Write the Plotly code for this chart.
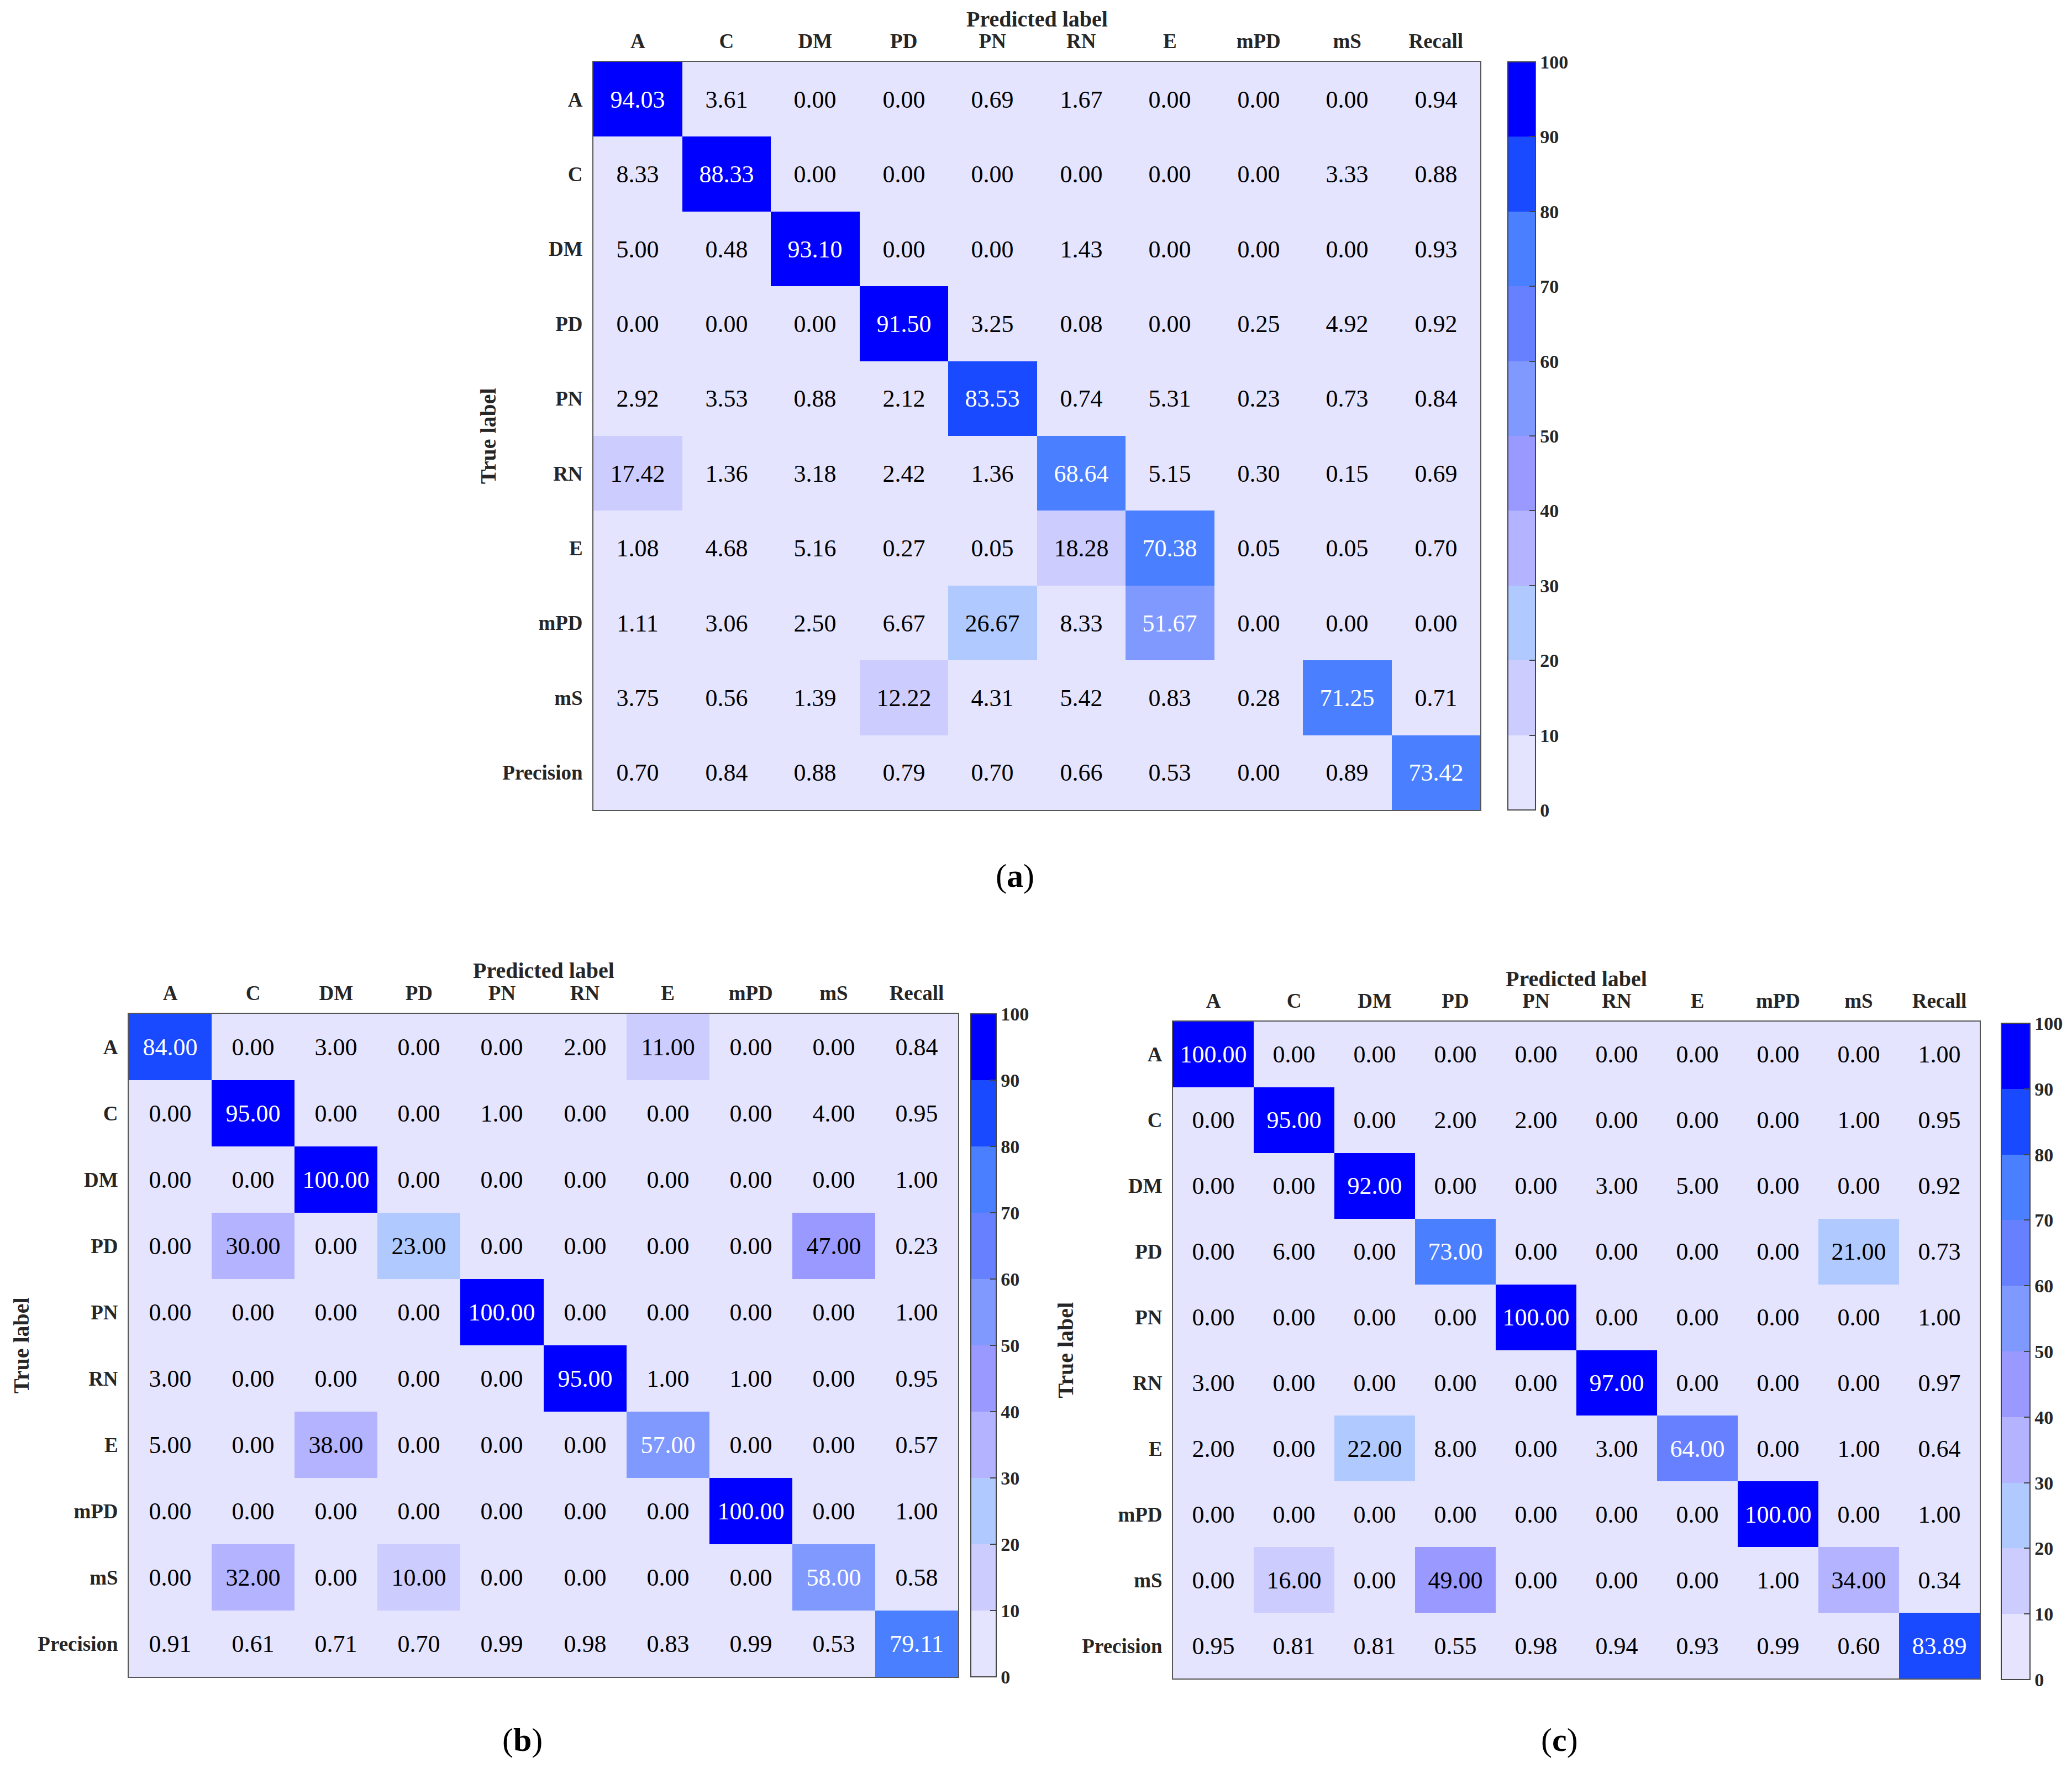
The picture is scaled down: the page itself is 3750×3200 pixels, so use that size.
import plotly.graph_objects as go

# Etichette
classi = ["A", "C", "DM", "PD", "PN", "RN", "E", "mPD", "mS"]
colonne = classi + ["Recall"]
righe = classi + ["Precision"]

# Matrici di confusione (%)
valori_a = [
    [94.03, 3.61, 0.00, 0.00, 0.69, 1.67, 0.00, 0.00, 0.00, 0.94],
    [8.33, 88.33, 0.00, 0.00, 0.00, 0.00, 0.00, 0.00, 3.33, 0.88],
    [5.00, 0.48, 93.10, 0.00, 0.00, 1.43, 0.00, 0.00, 0.00, 0.93],
    [0.00, 0.00, 0.00, 91.50, 3.25, 0.08, 0.00, 0.25, 4.92, 0.92],
    [2.92, 3.53, 0.88, 2.12, 83.53, 0.74, 5.31, 0.23, 0.73, 0.84],
    [17.42, 1.36, 3.18, 2.42, 1.36, 68.64, 5.15, 0.30, 0.15, 0.69],
    [1.08, 4.68, 5.16, 0.27, 0.05, 18.28, 70.38, 0.05, 0.05, 0.70],
    [1.11, 3.06, 2.50, 6.67, 26.67, 8.33, 51.67, 0.00, 0.00, 0.00],
    [3.75, 0.56, 1.39, 12.22, 4.31, 5.42, 0.83, 0.28, 71.25, 0.71],
    [0.70, 0.84, 0.88, 0.79, 0.70, 0.66, 0.53, 0.00, 0.89, 73.42],
]
valori_b = [
    [84.00, 0.00, 3.00, 0.00, 0.00, 2.00, 11.00, 0.00, 0.00, 0.84],
    [0.00, 95.00, 0.00, 0.00, 1.00, 0.00, 0.00, 0.00, 4.00, 0.95],
    [0.00, 0.00, 100.00, 0.00, 0.00, 0.00, 0.00, 0.00, 0.00, 1.00],
    [0.00, 30.00, 0.00, 23.00, 0.00, 0.00, 0.00, 0.00, 47.00, 0.23],
    [0.00, 0.00, 0.00, 0.00, 100.00, 0.00, 0.00, 0.00, 0.00, 1.00],
    [3.00, 0.00, 0.00, 0.00, 0.00, 95.00, 1.00, 1.00, 0.00, 0.95],
    [5.00, 0.00, 38.00, 0.00, 0.00, 0.00, 57.00, 0.00, 0.00, 0.57],
    [0.00, 0.00, 0.00, 0.00, 0.00, 0.00, 0.00, 100.00, 0.00, 1.00],
    [0.00, 32.00, 0.00, 10.00, 0.00, 0.00, 0.00, 0.00, 58.00, 0.58],
    [0.91, 0.61, 0.71, 0.70, 0.99, 0.98, 0.83, 0.99, 0.53, 79.11],
]
valori_c = [
    [100.00, 0.00, 0.00, 0.00, 0.00, 0.00, 0.00, 0.00, 0.00, 1.00],
    [0.00, 95.00, 0.00, 2.00, 2.00, 0.00, 0.00, 0.00, 1.00, 0.95],
    [0.00, 0.00, 92.00, 0.00, 0.00, 3.00, 5.00, 0.00, 0.00, 0.92],
    [0.00, 6.00, 0.00, 73.00, 0.00, 0.00, 0.00, 0.00, 21.00, 0.73],
    [0.00, 0.00, 0.00, 0.00, 100.00, 0.00, 0.00, 0.00, 0.00, 1.00],
    [3.00, 0.00, 0.00, 0.00, 0.00, 97.00, 0.00, 0.00, 0.00, 0.97],
    [2.00, 0.00, 22.00, 8.00, 0.00, 3.00, 64.00, 0.00, 1.00, 0.64],
    [0.00, 0.00, 0.00, 0.00, 0.00, 0.00, 0.00, 100.00, 0.00, 1.00],
    [0.00, 16.00, 0.00, 49.00, 0.00, 0.00, 0.00, 1.00, 34.00, 0.34],
    [0.95, 0.81, 0.81, 0.55, 0.98, 0.94, 0.93, 0.99, 0.60, 83.89],
]

# Colori a 10 livelli (0-100)
livelli = ["#E4E4FF", "#CCCCFF", "#B0CAFF", "#B3B3FF", "#9999FF",
           "#8099FF", "#6680FF", "#4A80FF", "#1A4AFF", "#0000FF"]
scala = []
for i, c in enumerate(livelli):
    scala.append([i / 10, c])
    scala.append([(i + 1) / 10 - 1e-4 if i < 9 else 1.0, c])

W, H = 3750, 3200
DX, DY = -8, -6  # correzione posizione
SERIF = "Liberation Serif, Times New Roman, serif"
GRIGIO = "#262626"

# posizioni in pixel: (x0, x1, y_top, y_bottom, cb_x, cb_w, cb_top, cb_bottom, nome)
pannelli = [
    (valori_a, 1074, 2679, 110, 1464, 2729, 50, 110, 1464, "a"),
    (valori_b, 233, 1734, 1833, 3033, 1757, 46, 1833, 3033, "b"),
    (valori_c, 2123, 3583, 1847, 3036, 3622, 52, 1850, 3038, "c"),
]

fig = go.Figure()
annotazioni = []

for k, (z, x0, x1, yt, yb, cbx, cbw, cbt, cbb, nome) in enumerate(pannelli):
    x0, x1, cbx = x0 + DX, x1 + DX, cbx + DX
    yt, yb, cbt, cbb = yt + DY, yb + DY, cbt + DY, cbb + DY
    suf = "" if k == 0 else str(k + 1)
    zmax = max(max(r) for r in z)
    testo = [[f"<span style='color:white'>{v:.2f}</span>" if v > 50 else f"{v:.2f}"
              for v in r] for r in z]
    fig.add_trace(go.Heatmap(
        z=z, x=colonne, y=righe, text=testo, texttemplate="%{text}",
        textfont=dict(family=SERIF, size=44, color="black"),
        colorscale=scala, zmin=0, zmax=zmax, showscale=False,
        xgap=0, ygap=0, xaxis="x" + suf, yaxis="y" + suf,
    ))
    # barra colori 0-100
    fig.add_trace(go.Scatter(
        x=[None], y=[None], mode="markers", showlegend=False, hoverinfo="skip",
        xaxis="x" + suf, yaxis="y" + suf,
        marker=dict(color=[0], colorscale=scala, cmin=0, cmax=100, showscale=True,
                    colorbar=dict(
                        x=cbx / W, xanchor="left", xpad=0,
                        y=1 - cbt / H, yanchor="top", ypad=0,
                        len=cbb - cbt, lenmode="pixels",
                        thickness=cbw, thicknessmode="pixels",
                        outlinecolor="#444", outlinewidth=2,
                        tickvals=list(range(0, 101, 10)),
                        ticks="inside", ticklen=12, tickcolor="#444", tickwidth=2,
                        tickfont=dict(family=SERIF, size=34, color=GRIGIO, weight="bold"),
                    )),
    ))
    fig.update_layout({
        "xaxis" + suf: dict(
            domain=[x0 / W, x1 / W], anchor="y" + suf, side="top",
            type="category", showgrid=False, zeroline=False, ticks="",
            showline=True, mirror=True, linecolor="#555", linewidth=2,
            ticklabelstandoff=8,
            tickfont=dict(family=SERIF, size=37, color=GRIGIO, weight="bold"),
        ),
        "yaxis" + suf: dict(
            domain=[1 - yb / H, 1 - yt / H], anchor="x" + suf,
            type="category", autorange="reversed", showgrid=False, zeroline=False,
            ticks="", showline=True, mirror=True, linecolor="#555", linewidth=2,
            ticklabelstandoff=10,
            tickfont=dict(family=SERIF, size=37, color=GRIGIO, weight="bold"),
        ),
    })
    xc = (x0 + x1) / 2 / W
    yc = 1 - (yt + yb) / 2 / H
    annotazioni.append(dict(
        text="Predicted label", x=xc, y=1 - (yt - 78) / H, xref="paper", yref="paper",
        xanchor="center", yanchor="middle", showarrow=False,
        font=dict(family=SERIF, size=40, color=GRIGIO, weight="bold")))
    annotazioni.append(dict(
        text="True label", x=(x0 - 190 if k == 0 else x0 - 195) / W, y=yc,
        xref="paper", yref="paper", xanchor="center", yanchor="middle",
        textangle=-90, showarrow=False,
        font=dict(family=SERIF, size=40, color=GRIGIO, weight="bold")))

# etichette dei pannelli
for testo_p, px, py in [("a", 1837, 1583), ("b", 945, 3147), ("c", 2822, 3147)]:
    annotazioni.append(dict(
        text=f"(<b>{testo_p}</b>)", x=(px + DX) / W, y=1 - (py + DY) / H,
        xref="paper", yref="paper",
        xanchor="center", yanchor="middle", showarrow=False,
        font=dict(family=SERIF, size=60, color="black")))

fig.update_layout(
    width=W, height=H,
    margin=dict(l=0, r=0, t=0, b=0),
    paper_bgcolor="white", plot_bgcolor="white",
    annotations=annotazioni,
    showlegend=False,
)

fig.write_html("out.html")
